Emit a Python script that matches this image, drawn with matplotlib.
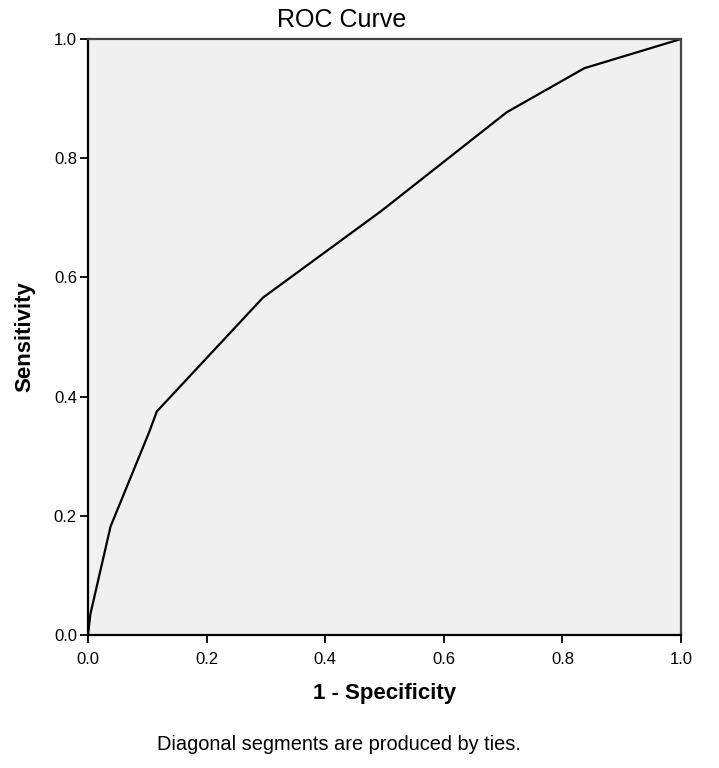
import matplotlib
matplotlib.use("Agg")
import matplotlib.pyplot as plt

plt.rcParams['font.family'] = ['Liberation Sans', 'DejaVu Sans']

fpr = [0.0, 0.004, 0.038, 0.103, 0.116, 0.295, 0.494, 0.706, 0.837, 1.0]
tpr = [0.0, 0.035, 0.182, 0.340, 0.375, 0.566, 0.711, 0.877, 0.951, 1.0]
ticks = [0.0, 0.2, 0.4, 0.6, 0.8, 1.0]
tick_labels = ["0.0", "0.2", "0.4", "0.6", "0.8", "1.0"]

fig = plt.figure(figsize=(7.19, 7.68), dpi=100)
ax = fig.add_axes([88/719, 1-635/768, (681-88)/719, (635-39)/768])
ax.set_facecolor("#f0f0f0")
ax.plot(fpr, tpr, color="black", lw=1.6, solid_joinstyle="miter")
ax.set_xlim(0, 1)
ax.set_ylim(0, 1)
ax.set_xticks(ticks)
ax.set_xticklabels(tick_labels)
ax.set_yticks(ticks)
ax.set_yticklabels(tick_labels)
ax.tick_params(direction="out", length=6, width=1.3, labelsize=12, colors="black")
ax.tick_params(axis="x", pad=6)
ax.tick_params(axis="y", pad=2)
for s in ax.spines.values():
    s.set_linewidth(1.6)
    s.set_color("black")
ax.spines['top'].set_color("#444444")
ax.spines['right'].set_color("#444444")
fig.text(342/719, 1-20/768, "ROC Curve", ha="center", va="center", fontsize=18)
fig.text(384.5/719, 1-694/768, "1 - Specificity", ha="center", va="center", fontsize=16, fontweight="bold")
fig.text(25/719, 1-337/768, "Sensitivity", ha="center", va="center", rotation=90, fontsize=16, fontweight="bold")
fig.text(339/719, 1-745/768, "Diagonal segments are produced by ties.", ha="center", va="center", fontsize=14.4)
fig.savefig("out.png", dpi=100)
